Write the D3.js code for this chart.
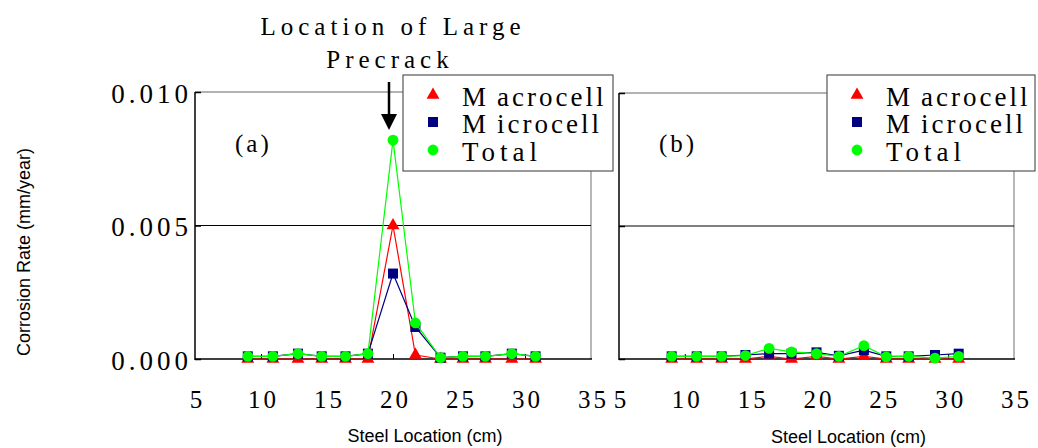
<!DOCTYPE html>
<html>
<head>
<meta charset="utf-8">
<script src="https://cdn.jsdelivr.net/npm/d3@7"></script>
<style>
  body { margin: 0; background: #fff; }
  svg { display: block; }
  .serif { font-family: "Liberation Serif", "Times New Roman", serif; fill: #000; }
  .sans { font-family: "Liberation Sans", Arial, sans-serif; fill: #000; }
</style>
</head>
<body>
<svg id="chart" width="1038" height="448"></svg>
<script>
// steel location (cm) of each measuring point
const steelLocation = [9.0, 10.9, 12.8, 14.6, 16.4, 18.1, 20.0, 21.7, 23.6, 25.3, 27.0, 29.0, 30.8];

// panel (a)
const macroA = [0, 0, 0, 0, 0, 0, 0.0050, 0.00015, 0, 0, 0, 0, 0];
const microA = [0.0001, 0.0001, 0.0002, 0.0001, 0.0001, 0.0002, 0.0032, 0.0012, 0.00005, 0.0001, 0.0001, 0.0002, 0.0001];
const totalA = [0.0001, 0.0001, 0.0002, 0.0001, 0.0001, 0.0002, 0.0082, 0.00135, 0.00005, 0.0001, 0.0001, 0.0002, 0.0001];

// panel (b)
const macroB = [0, 0, 0, 0, 0.0001, 0, 0.0001, 0, 0.0001, 0, 0, 0, 0];
const microB = [0.0001, 0.0001, 0.0001, 0.00015, 0.0002, 0.0002, 0.00025, 0.00012, 0.00033, 0.0001, 0.0001, 0.00015, 0.0002];
const totalB = [0.0001, 0.0001, 0.0001, 0.00013, 0.0004, 0.00027, 0.0002, 0.0001, 0.0005, 0.00008, 0.0001, 0.00003, 0.0001];

const seriesNames = ['Macrocell', 'Microcell', 'Total'];
const xTicks = [5, 10, 15, 20, 25, 30, 35];
const yTicks = [0, 0.005, 0.010];

const style = {
  Macrocell: { color: '#ff0000', symbol: d3.symbolTriangle, size: 72 },
  Microcell: { color: '#000080', symbol: d3.symbolSquare, size: 100 },
  Total: { color: '#00ff00', symbol: d3.symbolCircle, size: 92 },
};

const panels = [
  { key: 'a', x0: 195, x1: 591, y0: 92, y1: 359, series: [macroA, microA, totalA], yLabels: true, legendX: 403 },
  { key: 'b', x0: 619, x1: 1014, y0: 93, y1: 359, series: [macroB, microB, totalB], yLabels: false, legendX: 827 },
];

const svg = d3.select('#chart');

const drawPanel = (p) => {
  const x = d3.scaleLinear().domain([5, 35]).range([p.x0, p.x1]);
  const y = d3.scaleLinear().domain([0, 0.010]).range([p.y1, p.y0]);
  const g = svg.append('g').attr('class', `panel-${p.key}`);

  // frame: top/right grey, left/bottom black
  g.append('line').attr('x1', p.x0).attr('x2', p.x1).attr('y1', p.y0).attr('y2', p.y0)
    .style('stroke', '#666').style('stroke-width', 1.2);
  g.append('line').attr('x1', p.x1).attr('x2', p.x1).attr('y1', p.y0).attr('y2', p.y1)
    .style('stroke', '#888').style('stroke-width', 1.2);

  // gridline at 0.005
  g.append('line').attr('x1', p.x0).attr('x2', p.x1)
    .attr('y1', y(0.005)).attr('y2', y(0.005))
    .style('stroke', '#000').style('stroke-width', 1);

  g.append('line').attr('x1', p.x0).attr('x2', p.x0).attr('y1', p.y0).attr('y2', p.y1 + 1)
    .style('stroke', '#000').style('stroke-width', 1.5);
  g.append('line').attr('x1', p.x0).attr('x2', p.x1 + 1).attr('y1', p.y1).attr('y2', p.y1)
    .style('stroke', '#000').style('stroke-width', 1.5);

  // inner ticks
  const xIn = g.append('g').attr('transform', `translate(0,${p.y1})`)
    .call(d3.axisTop(x).tickValues([10, 20, 30]).tickSize(5).tickFormat(''));
  xIn.select('.domain').remove();
  xIn.selectAll('line').style('stroke', '#000');

  const yIn = g.append('g').attr('transform', `translate(${p.x0},0)`)
    .call(d3.axisRight(y).tickValues(yTicks).tickSize(6).tickFormat(''));
  yIn.select('.domain').remove();
  yIn.selectAll('line').style('stroke', '#000').style('stroke-width', 1.5);

  // tick labels
  const xAx = g.append('g').attr('transform', `translate(2,${p.y1})`)
    .call(d3.axisBottom(x).tickValues(xTicks).tickSize(0).tickPadding(31));
  xAx.select('.domain').remove();
  xAx.selectAll('text')
    .attr('class', 'serif')
    .style('font-size', '25px')
    .style('letter-spacing', '3px');

  if (p.yLabels) {
    const yAx = g.append('g').attr('transform', `translate(${p.x0 - 3},0)`)
      .call(d3.axisLeft(y).tickValues(yTicks).tickSize(0).tickPadding(0).tickFormat(d3.format('.3f')));
    yAx.select('.domain').remove();
    yAx.selectAll('text')
      .attr('class', 'serif')
      .attr('dy', '0.38em')
      .style('font-size', '27px')
      .style('letter-spacing', '4px');
  }

  // axis title
  g.append('text').attr('class', 'sans')
    .attr('x', (p.x0 + p.x1) / 2 + 32)
    .attr('y', p.key === 'a' ? 442 : 443)
    .attr('text-anchor', 'middle')
    .style('font-size', '18px')
    .text('Steel Location (cm)');

  // panel label
  g.append('text').attr('class', 'serif')
    .attr('x', p.x0 + 40).attr('y', 152)
    .style('font-size', '25px')
    .style('letter-spacing', '3px')
    .text(`(${p.key})`);

  // series
  p.series.forEach((vals, i) => {
    const name = seriesNames[i];
    const st = style[name];
    const pts = vals.map((v, j) => ({ x: steelLocation[j], y: v }));
    const line = d3.line().x((d) => x(d.x)).y((d) => y(d.y));
    g.append('path').attr('d', line(pts))
      .style('fill', 'none').style('stroke', st.color).style('stroke-width', 1.2);
    g.selectAll(`.pt-${i}`).data(pts).enter()
      .append('path')
      .attr('class', `pt-${i}`)
      .attr('transform', (d) => `translate(${x(d.x)},${y(d.y)})`)
      .attr('d', d3.symbol().type(st.symbol).size(st.size))
      .style('fill', st.color);
  });

  // legend
  const lg = g.append('g').attr('transform', `translate(${p.legendX},75)`);
  lg.append('rect').attr('width', p.key === 'a' ? 210 : 208).attr('height', 96)
    .style('fill', '#fff').style('stroke', '#555').style('stroke-width', 1.2);
  const rowY = [20, 47, 75];
  seriesNames.forEach((name, i) => {
    const st = style[name];
    lg.append('path')
      .attr('transform', `translate(30,${rowY[i]})`)
      .attr('d', d3.symbol().type(st.symbol).size(st.size))
      .style('fill', st.color);
    const t = lg.append('text').attr('class', 'serif')
      .attr('x', 59).attr('y', rowY[i] + 11)
      .style('font-size', '27px')
      .style('letter-spacing', name === 'Total' ? '5px' : '3px');
    if (name === 'Total') {
      t.text(name);
    } else {
      t.append('tspan').text(name.slice(0, 1));
      t.append('tspan').attr('dx', 8).text(name.slice(1));
    }
  });

  return { x, y };
};

const scalesA = drawPanel(panels[0]);
drawPanel(panels[1]);

// y axis title
svg.append('text').attr('class', 'sans')
  .attr('transform', 'translate(30,252) rotate(-90)')
  .attr('text-anchor', 'middle')
  .style('font-size', '18px')
  .text('Corrosion Rate (mm/year)');

// precrack annotation
const ann = svg.append('g');
ann.append('text').attr('class', 'serif')
  .attr('x', 393).attr('y', 35)
  .attr('text-anchor', 'middle')
  .style('font-size', '25px')
  .style('letter-spacing', '5px')
  .text('Location of Large');
ann.append('text').attr('class', 'serif')
  .attr('x', 390).attr('y', 68)
  .attr('text-anchor', 'middle')
  .style('font-size', '25px')
  .style('letter-spacing', '5px')
  .text('Precrack');

const ax = scalesA.x(20) - 4;
ann.append('line').attr('x1', ax).attr('x2', ax).attr('y1', 82).attr('y2', 117)
  .style('stroke', '#000').style('stroke-width', 2.5);
ann.append('path')
  .attr('d', `M${ax - 8},114 L${ax + 8},114 L${ax},130 Z`)
  .style('fill', '#000');
</script>
</body>
</html>
